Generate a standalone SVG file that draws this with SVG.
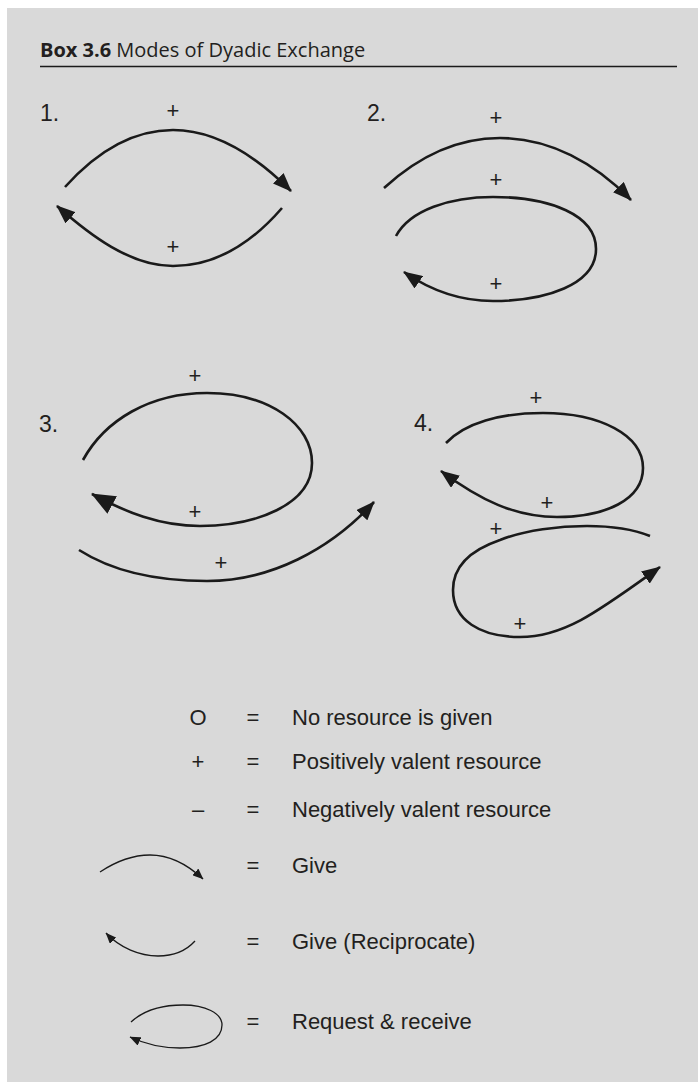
<svg xmlns="http://www.w3.org/2000/svg" width="698" height="1082" viewBox="0 0 698 1082">
<defs>
<style>
.bg{fill:#d9d9d9}
.t{font-family:"Liberation Sans",Arial,sans-serif;fill:#231f20}
.title{font-family:"Open Sans","Liberation Sans",sans-serif;font-size:20px;fill:#231f20}
.num{font-size:23px}
.plus{font-size:22px;text-anchor:middle}
.leg{font-size:22px}
.c{fill:none;stroke:#1a1a1a;stroke-width:2.6}
.cs{fill:none;stroke:#1a1a1a;stroke-width:1.3}
</style>
<marker id="ah" viewBox="0 0 19 15" refX="18" refY="7.5" markerWidth="19" markerHeight="15" markerUnits="userSpaceOnUse" orient="auto"><path d="M0,0 L19,7.5 L0,15 z" fill="#1a1a1a"/></marker>
<marker id="ahb" viewBox="0 0 24 20" refX="23" refY="10" markerWidth="24" markerHeight="20" markerUnits="userSpaceOnUse" orient="auto"><path d="M0,0 L24,10 L0,20 z" fill="#1a1a1a"/></marker>
<marker id="ahs" viewBox="0 0 11 9" refX="10.5" refY="4.5" markerWidth="11" markerHeight="9" markerUnits="userSpaceOnUse" orient="auto"><path d="M0,0 L11,4.5 L0,9 z" fill="#1a1a1a"/></marker>
</defs>
<rect class="bg" x="7" y="8" width="691" height="1074"/>
<g id="title">
<text class="title" x="40" y="57"><tspan font-weight="bold">Box 3.6</tspan>  Modes of Dyadic Exchange</text>
<line x1="40" y1="66.5" x2="677" y2="66.5" stroke="#1a1a1a" stroke-width="1.5"/>
</g>
<g id="labels" class="t">
<text class="num" x="40" y="121">1.</text>
<text class="num" x="367" y="121">2.</text>
<text class="num" x="39" y="432">3.</text>
<text class="num" x="414" y="431">4.</text>
<text class="plus" x="173" y="117.5">+</text>
<text class="plus" x="173" y="253.5">+</text>
<text class="plus" x="496" y="124.5">+</text>
<text class="plus" x="496" y="186.5">+</text>
<text class="plus" x="496" y="290.5">+</text>
<text class="plus" x="195" y="382.5">+</text>
<text class="plus" x="195" y="518.5">+</text>
<text class="plus" x="221" y="569.5">+</text>
<text class="plus" x="536" y="404.5">+</text>
<text class="plus" x="547" y="509.5">+</text>
<text class="plus" x="496" y="535.5">+</text>
<text class="plus" x="520" y="630.5">+</text>
</g>
<g id="connectors">
<path class="c" marker-end="url(#ah)" d="M65,187 C100,148 135,130 173,130 C215,130 255,155 291,191"/>
<path class="c" marker-end="url(#ah)" d="M282,208 C250,245 215,266 173,266 C130,266 90,235 57,206"/>
<path class="c" marker-end="url(#ah)" d="M384,188 C420,155 460,138 500,138 C550,138 595,163 631,200"/>
<path class="c" marker-end="url(#ah)" d="M396,236 C410,210 450,197 493,197 C550,197 596,215 596,249 C596,285 545,301 493,301 C460,301 430,290 404,272"/>
<path class="c" marker-end="url(#ahb)" d="M83,460 C105,420 150,393 207,393 C270,393 312,425 312,463 C312,505 255,526 200,526 C160,526 125,512 92,494"/>
<path class="c" marker-end="url(#ah)" d="M79,550 C115,573 160,581 207,581 C270,581 330,550 374,502"/>
<path class="c" marker-end="url(#ah)" d="M446,443 C465,423 500,413 543,413 C600,413 643,435 643,468 C643,500 605,517 557,517 C515,517 480,500 441,471"/>
<path class="c" marker-end="url(#ah)" d="M650,536 C630,528 610,526 587,526 C560,526 525,530 500,540 C465,552 453,570 453,590 C453,620 480,637 520,637 C565,637 600,610 660,567"/>
</g>
<g id="legend" class="t">
<text class="leg" x="198" y="725" text-anchor="middle">O</text>
<text class="leg" x="253" y="725" text-anchor="middle">=</text>
<text class="leg" x="292" y="725">No resource is given</text>
<text class="leg" x="198" y="769" text-anchor="middle">+</text>
<text class="leg" x="253" y="769" text-anchor="middle">=</text>
<text class="leg" x="292" y="769">Positively valent resource</text>
<text class="leg" x="198" y="817" text-anchor="middle">–</text>
<text class="leg" x="253" y="817" text-anchor="middle">=</text>
<text class="leg" x="292" y="817">Negatively valent resource</text>
<text class="leg" x="253" y="873" text-anchor="middle">=</text>
<text class="leg" x="292" y="873">Give</text>
<text class="leg" x="253" y="949" text-anchor="middle">=</text>
<text class="leg" x="292" y="949">Give (Reciprocate)</text>
<text class="leg" x="253" y="1029" text-anchor="middle">=</text>
<text class="leg" x="292" y="1029">Request &amp; receive</text>
</g>
<g id="legend-curves">
<path class="cs" marker-end="url(#ahs)" d="M100,872 C115,862 132,855 150,855 C170,855 188,865 203,879"/>
<path class="cs" marker-end="url(#ahs)" d="M195,941 C185,952 172,956 158,956 C140,956 120,948 106,933"/>
<path class="cs" marker-end="url(#ahs)" d="M131,1022 C143,1011 160,1005 183,1005 C205,1005 222,1013 222,1025 C222,1040 205,1048 180,1048 C160,1048 145,1044 130,1037"/>
</g>
</svg>
